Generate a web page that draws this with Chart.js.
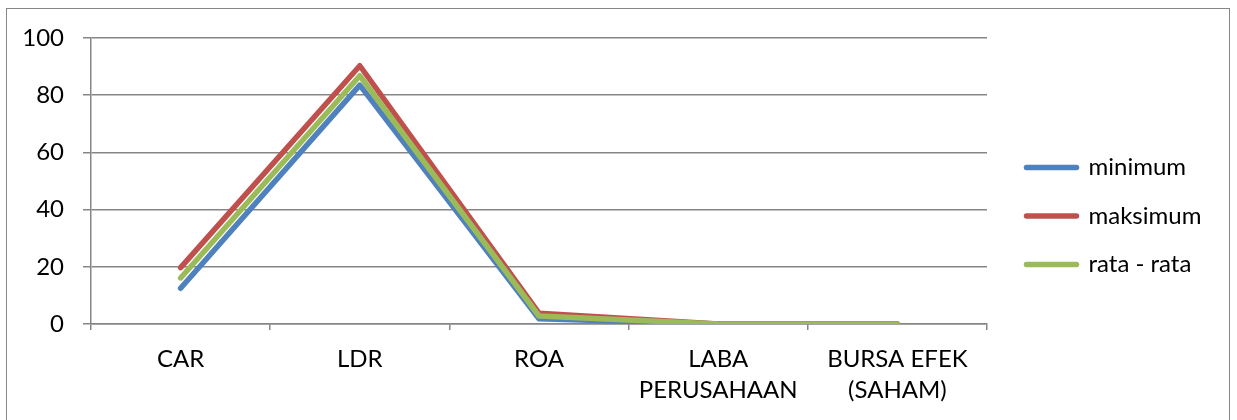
<!DOCTYPE html>
<html>
<head>
<meta charset="utf-8">
<script src="https://cdn.jsdelivr.net/npm/chart.js@4/dist/chart.umd.min.js"></script>
<style>
  html, body { margin: 0; padding: 0; background: #ffffff; }
  #wrap { position: relative; width: 1237px; height: 420px; overflow: hidden; }
  #frame {
    position: absolute; left: 6px; top: 8px; width: 1222px; height: 440px;
    border: 1.5px solid #878787; pointer-events: none;
  }
  canvas { position: absolute; left: 0; top: 0; }
</style>
</head>
<body>
<div id="wrap">
  <canvas id="chart" width="1237" height="420"></canvas>
  <div id="frame"></div>
</div>
<script>
// Indicator categories (multi-line labels as arrays)
const categories = ['CAR', 'LDR', 'ROA', ['LABA', 'PERUSAHAAN'], ['BURSA EFEK', '(SAHAM)']];

// Series values
const minimumValues  = [12.5, 83.5, 1.8, 0, 0];
const maksimumValues = [19.7, 90.3, 3.8, 0, 0];
const rataValues     = [16.1, 86.8, 2.8, 0, 0];

// Value axis ticks
const yTickValues = [0, 20, 40, 60, 80, 100];

const FONT_FAMILY = 'Lato';
const FONT_SIZE = 24;
const AXIS_GREY = '#868686';
const AXIS_WIDTH = 1.5;

// Fixed legend width so the plot area keeps its place
const legendWidthPlugin = {
  id: 'legendWidth',
  afterInit(chart) {
    const legend = chart.legend;
    if (!legend) return;
    const origFit = legend.fit;
    legend.fit = function () {
      origFit.call(this);
      this.width = 235;
    };
  }
};

const ctx = document.getElementById('chart').getContext('2d');

new Chart(ctx, {
  type: 'line',
  data: {
    labels: categories,
    datasets: [
      {
        label: 'minimum',
        data: minimumValues,
        borderColor: '#4F81BD',
        backgroundColor: '#4F81BD',
        order: 2
      },
      {
        label: 'maksimum',
        data: maksimumValues,
        borderColor: '#C0504D',
        backgroundColor: '#C0504D',
        order: 1
      },
      {
        label: 'rata - rata',
        data: rataValues,
        borderColor: '#9BBB59',
        backgroundColor: '#9BBB59',
        order: 0
      }
    ]
  },
  options: {
    responsive: false,
    animation: false,
    devicePixelRatio: 1,
    layout: { padding: { left: 0, top: 12, right: 0, bottom: 0 } },
    elements: {
      line: {
        borderWidth: 5.5,
        tension: 0,
        borderCapStyle: 'round',
        borderJoinStyle: 'round',
        fill: false
      },
      point: { radius: 0, hoverRadius: 0 }
    },
    scales: {
      x: {
        type: 'category',
        offset: true,
        grid: {
          offset: true,
          drawOnChartArea: false,
          color: AXIS_GREY,
          lineWidth: AXIS_WIDTH,
          tickLength: 6
        },
        border: { display: true, color: AXIS_GREY, width: AXIS_WIDTH },
        ticks: {
          autoSkip: false,
          maxRotation: 0,
          minRotation: 0,
          padding: 13.5,
          color: '#000000',
          font: { family: FONT_FAMILY, size: FONT_SIZE, lineHeight: '31px' }
        },
        afterFit(scale) { scale.height = 96; }
      },
      y: {
        min: 0,
        max: 100,
        afterBuildTicks(scale) {
          scale.ticks = yTickValues.map(v => ({ value: v }));
        },
        grid: {
          color: AXIS_GREY,
          lineWidth: AXIS_WIDTH,
          tickLength: 8
        },
        border: { display: true, color: AXIS_GREY, width: AXIS_WIDTH },
        ticks: {
          padding: 19,
          color: '#000000',
          font: { family: FONT_FAMILY, size: FONT_SIZE }
        },
        afterFit(scale) { scale.width = 91; }
      },
      yGap: {
        position: 'right',
        display: true,
        grid: { display: false, drawTicks: false },
        border: { display: false },
        ticks: { display: false },
        afterFit(scale) { scale.width = 15; }
      }
    },
    plugins: {
      // empty top band keeps the plot area below the frame edge
      title: {
        display: true,
        text: '',
        padding: 0,
        font: { family: FONT_FAMILY, size: 26, lineHeight: 1 }
      },
      tooltip: { enabled: false },
      legend: {
        display: true,
        position: 'right',
        align: 'center',
        labels: {
          usePointStyle: true,
          pointStyleWidth: 50,
          padding: 24.5,
          color: '#000000',
          font: { family: FONT_FAMILY, size: FONT_SIZE },
          sort: (a, b) => a.datasetIndex - b.datasetIndex,
          generateLabels(chart) {
            const base = Chart.defaults.plugins.legend.labels.generateLabels(chart);
            return base.map(item => Object.assign(item, {
              pointStyle: 'line',
              lineCap: 'round',
              lineWidth: 5.5
            }));
          }
        }
      }
    }
  },
  plugins: [legendWidthPlugin]
});
</script>
</body>
</html>
